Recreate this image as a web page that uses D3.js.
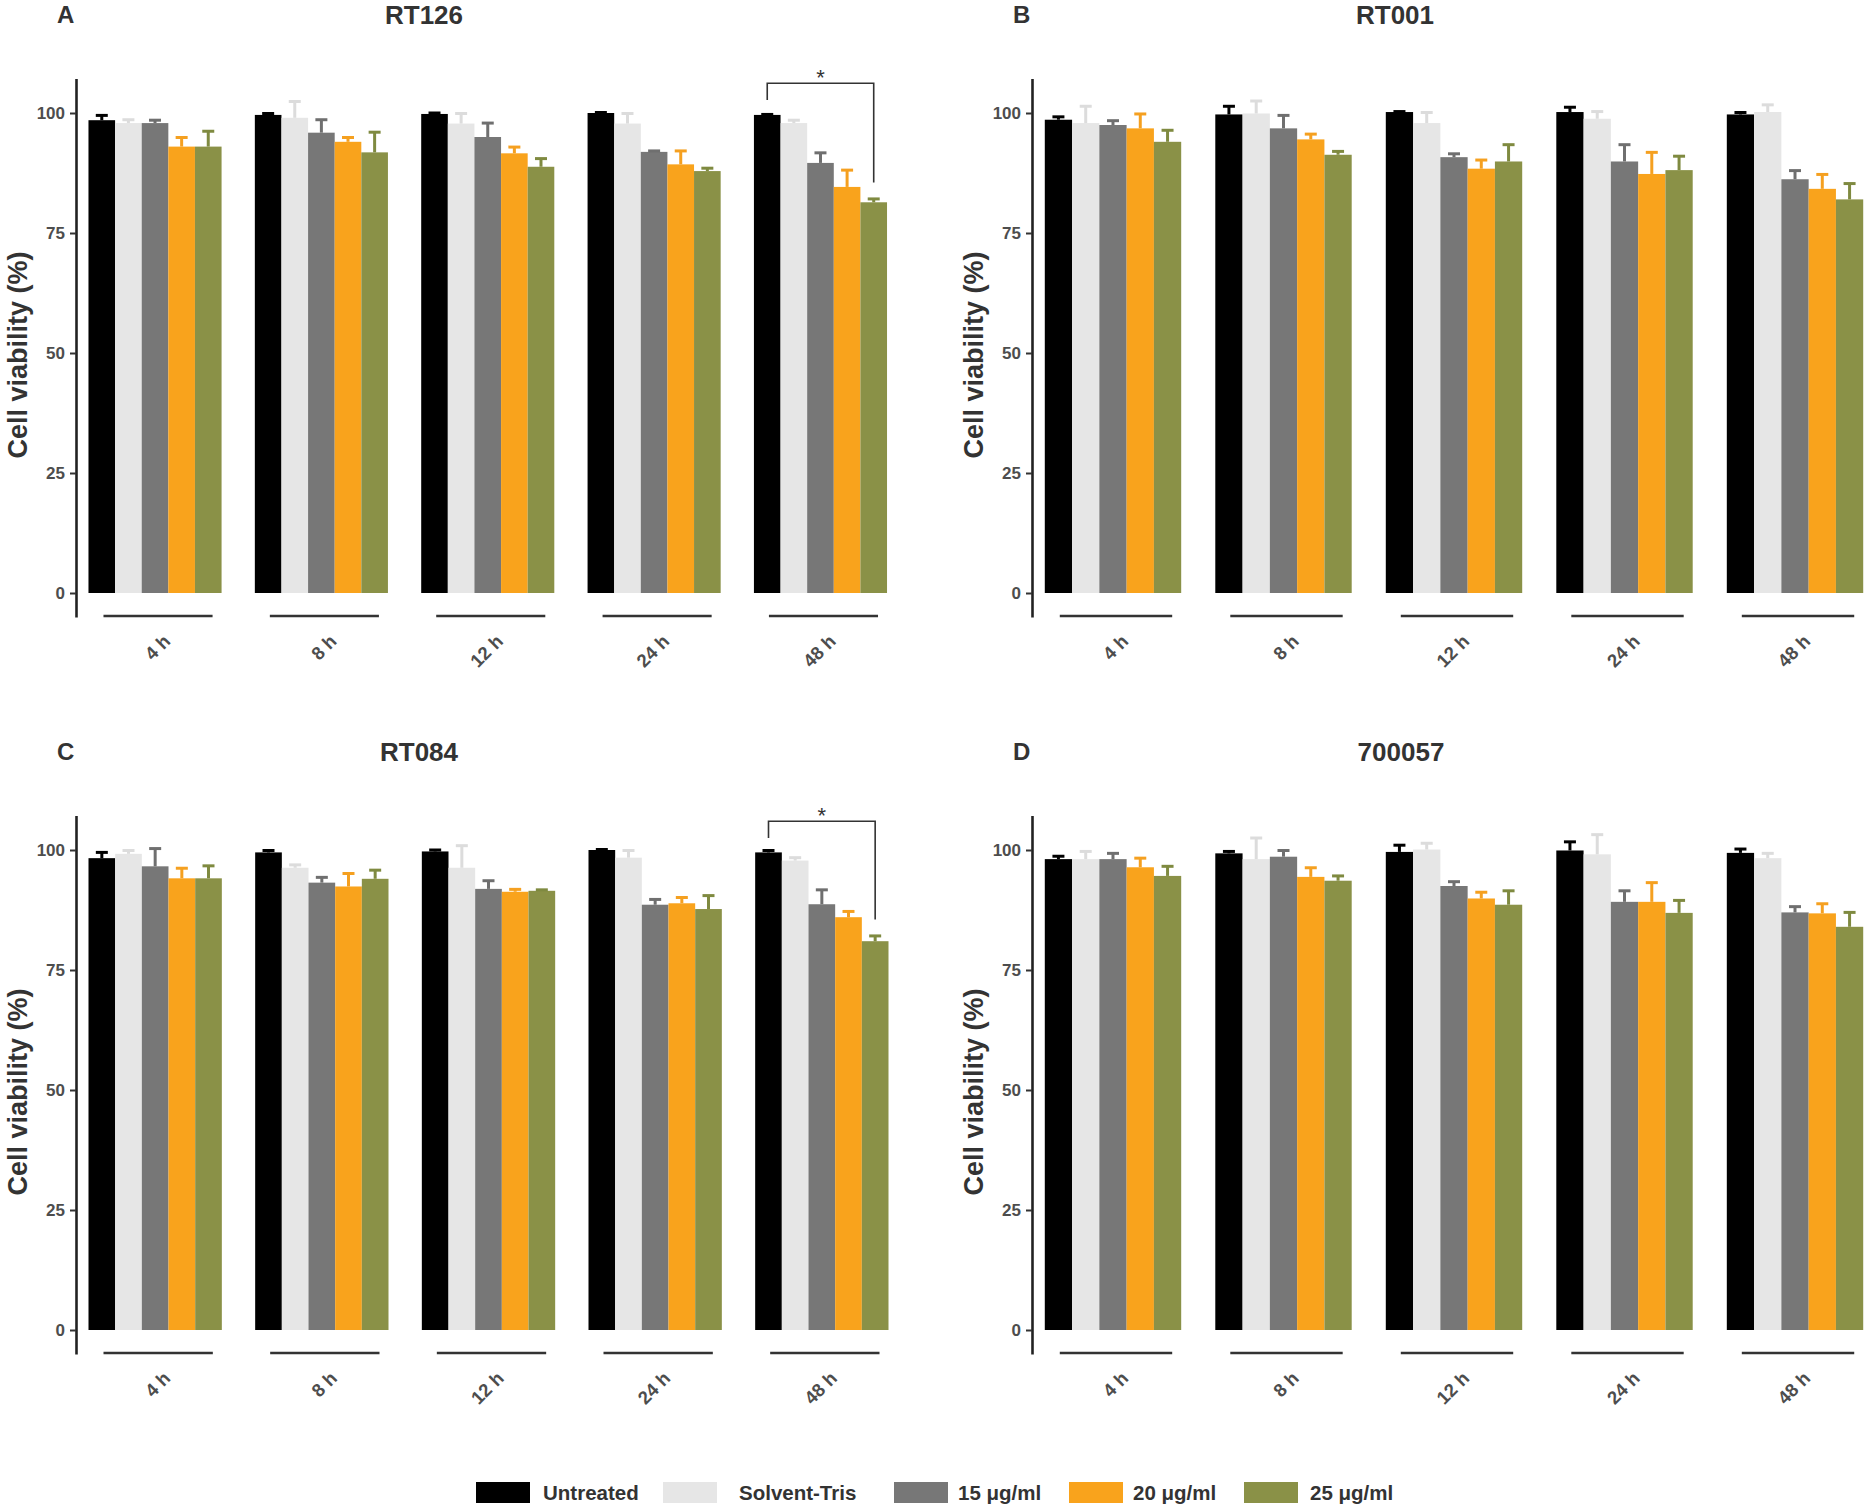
<!DOCTYPE html>
<html>
<head>
<meta charset="utf-8">
<script src="https://cdn.jsdelivr.net/npm/d3@7"></script>
<style>
  html, body { margin: 0; padding: 0; background: #ffffff; }
  svg { display: block; }
  text { font-family: "Liberation Sans", Arial, sans-serif; }
</style>
</head>
<body>
<svg id="chart" width="1865" height="1506"></svg>
<script>
// ---------------- DATA ----------------
const times = ["4 h", "8 h", "12 h", "24 h", "48 h"];
const treatments = ["Untreated", "Solvent-Tris", "15 μg/ml", "20 μg/ml", "25 μg/ml"];
const treatmentColors = ["#000000", "#e6e6e6", "#777777", "#f9a31c", "#8a9147"];
const errColors = ["#000000", "#dcdcdc", "#6f6f6f", "#f5a020", "#7f8a40"];
const yTicks = [0, 25, 50, 75, 100];

// rows = time points, columns = treatments
const meanRT126 = [
  [98.5, 97.9, 97.9, 93.0, 93.0],
  [99.6, 99.0, 95.9, 94.0, 91.8],
  [99.8, 97.8, 95.0, 91.6, 88.8],
  [100.0, 97.8, 91.9, 89.3, 87.9],
  [99.6, 97.9, 89.6, 84.6, 81.4]
];
const sdRT126 = [
  [1.0, 0.7, 0.6, 1.9, 3.2],
  [0.3, 3.4, 2.7, 0.9, 4.2],
  [0.2, 2.1, 2.9, 1.3, 1.7],
  [0.1, 2.1, 0.2, 2.8, 0.6],
  [0.1, 0.6, 2.1, 3.5, 0.7]
];
const meanRT001 = [
  [98.6, 97.9, 97.5, 96.8, 94.0],
  [99.7, 99.9, 96.8, 94.5, 91.3],
  [100.2, 97.9, 90.8, 88.4, 89.9],
  [100.2, 98.8, 89.9, 87.3, 88.1],
  [99.7, 100.2, 86.2, 84.2, 82.0]
];
const sdRT001 = [
  [0.6, 3.5, 0.9, 3.0, 2.4],
  [1.7, 2.6, 2.7, 1.1, 0.7],
  [0.1, 2.2, 0.7, 1.8, 3.5],
  [1.0, 1.5, 3.5, 4.5, 2.9],
  [0.4, 1.5, 1.8, 3.0, 3.3]
];
const meanRT084 = [
  [98.3, 99.2, 96.6, 94.1, 94.1],
  [99.5, 96.3, 93.2, 92.4, 94.0],
  [99.7, 96.3, 91.9, 91.3, 91.5],
  [100.0, 98.4, 88.6, 88.9, 87.7],
  [99.5, 97.8, 88.7, 86.0, 81.0]
];
const sdRT084 = [
  [1.2, 0.7, 3.7, 2.1, 2.6],
  [0.4, 0.6, 1.1, 2.7, 1.8],
  [0.3, 4.6, 1.7, 0.5, 0.2],
  [0.1, 1.5, 1.1, 1.2, 2.8],
  [0.4, 0.6, 3.0, 1.2, 1.1]
];
const mean700057 = [
  [98.1, 98.1, 98.1, 96.4, 94.6],
  [99.3, 98.1, 98.6, 94.4, 93.6],
  [99.6, 100.1, 92.5, 89.9, 88.6],
  [99.9, 99.1, 89.2, 89.2, 86.9],
  [99.4, 98.3, 87.0, 86.8, 84.0]
];
const sd700057 = [
  [0.6, 1.6, 1.2, 1.9, 2.0],
  [0.4, 4.4, 1.3, 1.9, 1.0],
  [1.4, 1.3, 0.9, 1.3, 2.9],
  [1.8, 4.1, 2.3, 4.0, 2.6],
  [0.8, 1.0, 1.2, 2.0, 3.0]
];
// significance brackets in data units
const bracketRT126 = { time: "48 h", top: 106.2, left: 102.7, right: 85.5, label: "*" };
const bracketRT084 = { time: "48 h", top: 106.0, left: 102.5, right: 85.5, label: "*" };

const panelLetters = ["A", "B", "C", "D"];
const panelTitles = ["RT126", "RT001", "RT084", "700057"];
const yTitle = "Cell viability (%)";

// ---------------- LAYOUT ----------------
const svg = d3.select("#chart");
svg.append("rect").attr("width", 1865).attr("height", 1506).attr("fill", "#fff");

const panels = [
  { letter: 0, mean: meanRT126, sd: sdRT126, bracket: bracketRT126, axisX: 76, rangeR: 899.5, zeroY: 593, letterX: 57, titleX: 424 },
  { letter: 1, mean: meanRT001, sd: sdRT001, bracket: null, axisX: 1032, rangeR: 1876, zeroY: 593, letterX: 1013, titleX: 1395 },
  { letter: 2, mean: meanRT084, sd: sdRT084, bracket: bracketRT084, axisX: 76, rangeR: 901, zeroY: 1330, letterX: 57, titleX: 419 },
  { letter: 3, mean: mean700057, sd: sd700057, bracket: null, axisX: 1032, rangeR: 1876, zeroY: 1330, letterX: 1013, titleX: 1401 }
];
const pxPerUnit = 4.8;
const yDomain = [-5, 107.2];

panels.forEach(p => {
  const g = svg.append("g");
  const y = d3.scaleLinear().domain(yDomain)
    .range([p.zeroY - yDomain[0] * pxPerUnit, p.zeroY - yDomain[1] * pxPerUnit]);
  const x = d3.scaleBand().domain(times).range([p.axisX, p.rangeR])
    .paddingInner(0.2).paddingOuter(0.075);
  const xi = d3.scaleBand().domain(treatments).range([0, x.bandwidth()]).padding(0);

  // Titles
  const topY = p.zeroY - 570;
  g.append("text").attr("x", p.letterX).attr("y", topY)
    .attr("font-size", 24).attr("font-weight", "bold").attr("fill", "#333")
    .text(panelLetters[p.letter]);
  g.append("text").attr("x", p.titleX).attr("y", topY + 1)
    .attr("text-anchor", "middle")
    .attr("font-size", 26).attr("font-weight", "bold").attr("fill", "#333")
    .text(panelTitles[p.letter]);

  // Y axis title
  const yMid = (y(0) + y(100)) / 2 + 2;
  g.append("text")
    .attr("transform", `translate(${p.axisX - 59},${yMid}) rotate(-90)`)
    .attr("text-anchor", "middle").attr("dy", "0.36em")
    .attr("font-size", 27).attr("font-weight", "bold").attr("fill", "#333")
    .text(yTitle);

  // Bars
  const rows = [];
  times.forEach((t, ti) => treatments.forEach((tr, k) => {
    rows.push({ t, tr, k, m: p.mean[ti][k], s: p.sd[ti][k] });
  }));
  g.append("g").selectAll("rect").data(rows).join("rect")
    .attr("x", d => x(d.t) + xi(d.tr))
    .attr("y", d => y(d.m))
    .attr("width", xi.bandwidth())
    .attr("height", d => y(0) - y(d.m))
    .attr("fill", d => treatmentColors[d.k]);

  // Error bars (upper only)
  const capW = 12;
  const eb = g.append("g").selectAll("g").data(rows).join("g")
    .attr("stroke", d => errColors[d.k]).attr("stroke-width", 3).attr("fill", "none");
  eb.append("line")
    .attr("x1", d => x(d.t) + xi(d.tr) + xi.bandwidth() / 2)
    .attr("x2", d => x(d.t) + xi(d.tr) + xi.bandwidth() / 2)
    .attr("y1", d => y(d.m))
    .attr("y2", d => y(d.m + d.s));
  eb.append("line")
    .attr("x1", d => x(d.t) + xi(d.tr) + xi.bandwidth() / 2 - capW / 2)
    .attr("x2", d => x(d.t) + xi(d.tr) + xi.bandwidth() / 2 + capW / 2)
    .attr("y1", d => y(d.m + d.s))
    .attr("y2", d => y(d.m + d.s));

  // Y axis
  const axis = d3.axisLeft(y).tickValues(yTicks).tickSize(6).tickSizeOuter(0).tickPadding(5);
  const ag = g.append("g").attr("transform", `translate(${p.axisX},0)`).call(axis);
  ag.select(".domain").attr("stroke", "#222").attr("stroke-width", 2.6);
  ag.selectAll(".tick line").attr("stroke", "#333").attr("stroke-width", 2);
  ag.selectAll(".tick text").attr("font-size", 17).attr("font-weight", "bold")
    .attr("fill", "#4d4d4d").attr("font-family", "'Liberation Sans', Arial, sans-serif");

  // Group underlines and rotated labels
  const lineY = y(yDomain[0]) - 1;
  g.append("g").selectAll("line").data(times).join("line")
    .attr("x1", t => x(t) + 15).attr("x2", t => x(t) + x.bandwidth() - 9)
    .attr("y1", lineY).attr("y2", lineY)
    .attr("stroke", "#333").attr("stroke-width", 2.6);
  g.append("g").selectAll("text").data(times).join("text")
    .attr("transform", t => `translate(${x(t) + x.bandwidth() / 2 + 7},${lineY + 17}) rotate(-45)`)
    .attr("text-anchor", "end").attr("dy", "0.72em")
    .attr("font-size", 18.5).attr("font-weight", "bold").attr("fill", "#4d4d4d")
    .text(t => t);

  // Significance bracket
  if (p.bracket) {
    const b = p.bracket;
    const xl = x(b.time) + xi(treatments[0]) + xi.bandwidth() / 2;
    const xr = x(b.time) + xi(treatments[4]) + xi.bandwidth() / 2;
    g.append("path")
      .attr("d", `M${xl},${y(b.left)} V${y(b.top)} H${xr} V${y(b.right)}`)
      .attr("fill", "none").attr("stroke", "#333").attr("stroke-width", 1.6);
    g.append("text").attr("x", (xl + xr) / 2).attr("y", y(b.top) + 2)
      .attr("text-anchor", "middle").attr("font-size", 22).attr("fill", "#333")
      .text(b.label);
  }
});

// ---------------- LEGEND ----------------
const legendKeyX = [476, 663, 894, 1069, 1244];
const legendTextX = [543, 739, 958, 1133, 1310];
const lg = svg.append("g");
treatments.forEach((tr, k) => {
  lg.append("rect").attr("x", legendKeyX[k]).attr("y", 1482)
    .attr("width", 54).attr("height", 21).attr("fill", treatmentColors[k]);
  lg.append("text").attr("x", legendTextX[k]).attr("y", 1500)
    .attr("font-size", 20.5).attr("font-weight", "bold").attr("fill", "#333")
    .text(tr);
});
</script>
</body>
</html>
